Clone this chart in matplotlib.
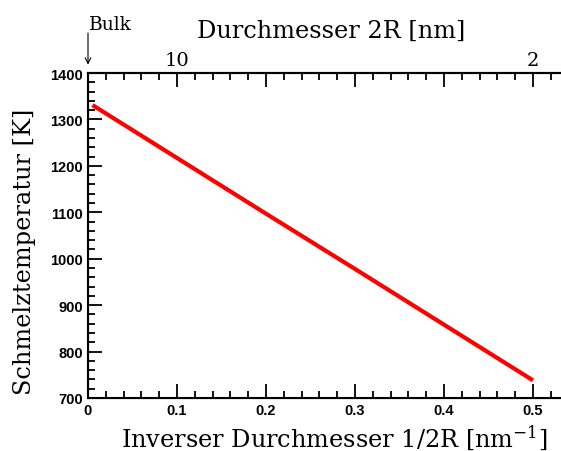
import numpy as np
import matplotlib
matplotlib.use("Agg")
from matplotlib import pyplot as plt
from matplotlib.ticker import MultipleLocator

# melting temperature vs inverse diameter
inv_d = [0.005, 0.1, 0.2, 0.3, 0.4, 0.5]
t_melt = [1331, 1217, 1097, 978, 858, 738]

top_ticks = [0.1, 0.2, 0.3, 0.4, 0.5]
top_labels = ['10', '', '', '', '2']

plt.rcParams['mathtext.fontset'] = 'dejavuserif'
serif = 'DejaVu Serif'
sans = 'Liberation Sans'

W, H = 561, 452
fig = plt.figure(figsize=(W/100, H/100), dpi=100)
ax = fig.add_axes([88/W, 53/H, 473/W, 325/H])

ax.plot(inv_d, t_melt, color='red', lw=3, solid_capstyle='butt')

ax.set_xlim(0, 0.5315)
ax.set_ylim(700, 1400)
ax.spines['right'].set_visible(False)
for s in ['left', 'bottom', 'top']:
    ax.spines[s].set_linewidth(1.5)

ax.xaxis.set_major_locator(MultipleLocator(0.1))
ax.xaxis.set_minor_locator(MultipleLocator(0.02))
ax.yaxis.set_major_locator(MultipleLocator(100))
ax.yaxis.set_minor_locator(MultipleLocator(20))
ax.xaxis.set_major_formatter(plt.FuncFormatter(lambda v, p: '0' if abs(v) < 1e-9 else f'{v:.1f}'))
ax.tick_params(which='both', direction='in', width=1.3, right=False, top=False)
ax.tick_params(which='major', length=10, labelsize=10.5)
ax.tick_params(which='minor', length=5)
for lab in ax.get_xticklabels() + ax.get_yticklabels():
    lab.set_fontfamily(sans)
    lab.set_fontweight('bold')

# top axis: diameter
ax2 = ax.twiny()
ax2.set_xlim(ax.get_xlim())
ax2.spines['right'].set_visible(False)
ax2.spines['top'].set_linewidth(1.5)
ax2.set_xticks(top_ticks)
ax2.set_xticklabels(top_labels, fontfamily=serif, fontsize=14)
ax2.xaxis.set_minor_locator(MultipleLocator(0.02))
ax2.tick_params(which='both', direction='in', width=1.3)
ax2.tick_params(which='major', length=10, pad=3)
ax2.tick_params(which='minor', length=5)

ax2.set_xlabel('Durchmesser 2R [nm]', fontfamily=serif, fontsize=17.3, va='baseline')
ax2.xaxis.set_label_coords(0.514, 1.111)
ax.set_xlabel('Inverser Durchmesser 1/2R [nm$^{-1}$]', fontfamily=serif, fontsize=17.3, va='baseline')
ax.xaxis.set_label_coords(0.521, -0.1446)
ax.set_ylabel('Schmelztemperatur [K]', fontfamily=serif, fontsize=17.3, va='center')
ax.yaxis.set_label_coords(-0.135, 0.452)

# bulk marker
ax.annotate('', xy=(0, 1400), xytext=(0, 40), textcoords='offset pixels',
            arrowprops=dict(arrowstyle='->', lw=0.8, color='black', shrinkA=0, shrinkB=6))
fig.text(89/W, 1 - 30/H, 'Bulk', fontfamily=serif, fontsize=13.5, va='baseline', ha='left')

fig.savefig('out.png', dpi=100)
